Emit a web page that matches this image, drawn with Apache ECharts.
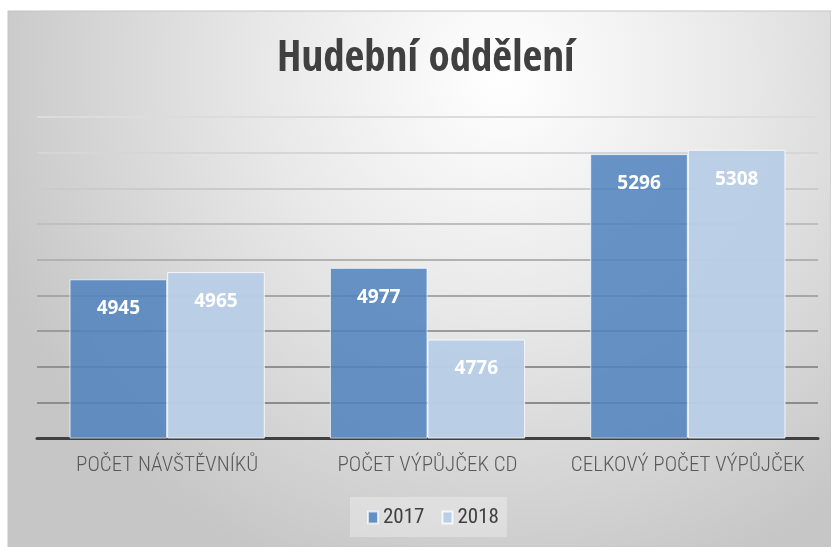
<!DOCTYPE html>
<html>
<head>
<meta charset="utf-8">
<script src="https://cdn.jsdelivr.net/npm/echarts@6/dist/echarts.min.js"></script>
<style>
  html, body { margin: 0; padding: 0; background: #fff; }
  #main { width: 831px; height: 547px; }
</style>
</head>
<body>
<div id="main"></div>
<script>
// hodnoty z grafu
const categories = ['POČET NÁVŠTĚVNÍKŮ', 'POČET VÝPŮJČEK CD', 'CELKOVÝ POČET VÝPŮJČEK'];
const years = ['2017', '2018'];
const values2017 = [4945, 4977, 5296];
const values2018 = [4965, 4776, 5308];

const narrowBold = '"Open Sans Condensed", "DejaVu Sans Condensed", sans-serif';
const narrowLight = '"Roboto Condensed", "DejaVu Sans Condensed", sans-serif';

// mrizka od spodu nahoru, smerem nahoru svetlejsi
const gridColors = ['#8a8a8a', '#8c8c8c', '#919191', '#9b9b9b', '#a7a7a7', '#b2b2b2', '#bfbfbf', '#cbcbcb', '#d6d6d6', '#dcdcdc'];

let chart = echarts.init(document.getElementById('main'));

const barLabel = {
    show: true,
    position: 'insideTop',
    distance: 20,
    color: '#fff',
    fontSize: 19,
    fontWeight: 'bold',
    fontFamily: '"Open Sans", sans-serif'
};

chart.setOption({
    backgroundColor: '#fff',
    animation: false,
    graphic: [{
        type: 'rect',
        z: -10,
        shape: { x: 8, y: 11, width: 823, height: 536 },
        style: {
            fill: {
                type: 'radial', x: 0.6, y: 0.12, r: 1,
                colorStops: [
                    { offset: 0, color: '#ffffff' },
                    { offset: 0.45, color: '#e8e8e8' },
                    { offset: 1, color: '#c6c6c6' }
                ]
            },
            stroke: '#c4c4c4',
            lineWidth: 1
        }
    }],
    title: {
        text: 'Hudební oddělení',
        left: 272,
        top: 33,
        textStyle: {
            fontFamily: narrowBold,
            fontSize: 43,
            fontWeight: 'bold',
            color: '#404040'
        }
    },
    legend: {
        data: years,
        left: 350,
        top: 497,
        itemWidth: 10,
        itemHeight: 12,
        itemGap: 17,
        padding: [10, 8, 9, 17],
        backgroundColor: 'rgba(255,255,255,0.3)',
        icon: 'rect',
        textStyle: { fontFamily: narrowLight, fontSize: 21, color: '#404040' }
    },
    grid: { left: 37, right: 13, top: 117, bottom: 109 },
    xAxis: {
        type: 'category',
        data: categories,
        axisLine: { lineStyle: { color: '#404040', width: 3 } },
        axisTick: { show: false },
        axisLabel: { interval: 0, margin: 17, fontFamily: narrowLight, fontWeight: 300, fontSize: 21, color: '#595959' }
    },
    yAxis: {
        type: 'value',
        min: 4500,
        max: 5400,
        interval: 100,
        axisLabel: { show: false },
        axisLine: { show: false },
        axisTick: { show: false },
        splitLine: { lineStyle: { color: gridColors, width: 2 } }
    },
    series: [{
        name: years[0],
        type: 'bar',
        data: values2017,
        barGap: '0%',
        barCategoryGap: '25%',
        itemStyle: { color: 'rgba(79,129,189,0.85)', borderColor: 'rgba(255,255,255,0.7)', borderWidth: 1 },
        label: barLabel
    }, {
        name: years[1],
        type: 'bar',
        data: values2018,
        itemStyle: { color: 'rgba(185,205,229,0.97)', borderColor: 'rgba(255,255,255,0.8)', borderWidth: 1 },
        label: barLabel
    }]
});
</script>
</body>
</html>
